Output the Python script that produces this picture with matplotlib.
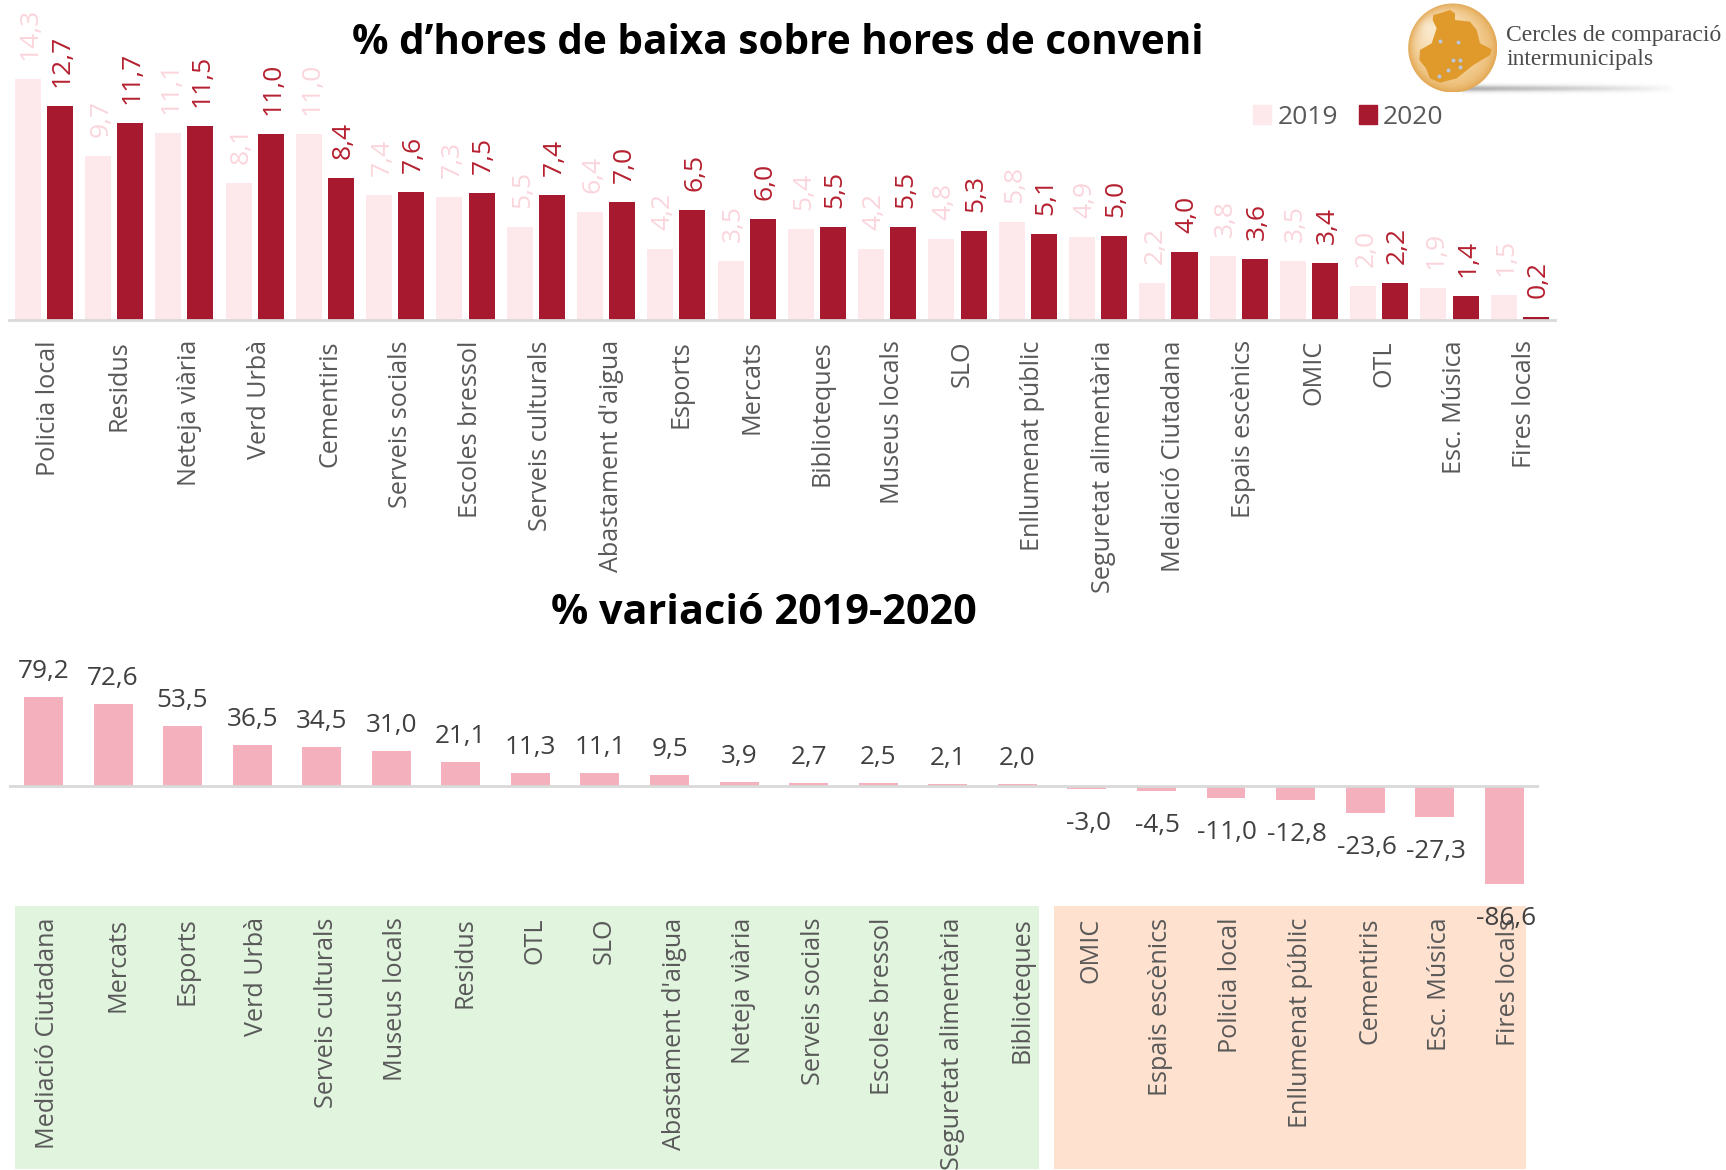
import numpy as np
import matplotlib
matplotlib.use("Agg")
import matplotlib.pyplot as plt
from matplotlib.patches import Rectangle, Circle, Polygon, Patch
from matplotlib.transforms import ScaledTranslation

W, H = 1726, 1170
plt.rcParams['font.family'] = ['Open Sans', 'DejaVu Sans']

services = ["Policia local", "Residus", "Neteja viària", "Verd Urbà", "Cementiris", "Serveis socials",
            "Escoles bressol", "Serveis culturals", "Abastament d'aigua", "Esports", "Mercats", "Biblioteques",
            "Museus locals", "SLO", "Enllumenat públic", "Seguretat alimentària", "Mediació Ciutadana",
            "Espais escènics", "OMIC", "OTL", "Esc. Música", "Fires locals"]
values_2019 = [14.3, 9.7, 11.1, 8.1, 11.0, 7.4, 7.3, 5.5, 6.4, 4.2, 3.5, 5.4, 4.2, 4.8, 5.8, 4.9, 2.2, 3.8, 3.5, 2.0, 1.9, 1.5]
values_2020 = [12.7, 11.7, 11.5, 11.0, 8.4, 7.6, 7.5, 7.4, 7.0, 6.5, 6.0, 5.5, 5.5, 5.3, 5.1, 5.0, 4.0, 3.6, 3.4, 2.2, 1.4, 0.2]

var_names = ["Mediació Ciutadana", "Mercats", "Esports", "Verd Urbà", "Serveis culturals", "Museus locals", "Residus",
             "OTL", "SLO", "Abastament d'aigua", "Neteja viària", "Serveis socials", "Escoles bressol",
             "Seguretat alimentària", "Biblioteques", "OMIC", "Espais escènics", "Policia local",
             "Enllumenat públic", "Cementiris", "Esc. Música", "Fires locals"]
var_values = [79.2, 72.6, 53.5, 36.5, 34.5, 31.0, 21.1, 11.3, 11.1, 9.5, 3.9, 2.7, 2.5, 2.1, 2.0,
              -3.0, -4.5, -11.0, -12.8, -23.6, -27.3, -86.6]

PALE, DARK, PINK = '#FDE8EB', '#A6192E', '#F4B0BC'
PALE_T, DARK_T = '#FBD5DC', '#B5202F'
GREY_LINE, TICK, VAL = '#D9D9D9', '#595959', '#404040'
PX = 0.72  # points per pixel at dpi 100


def fmt(v):
    return f"{v:.1f}".replace('.', ',')


def ax_px(fig, left, top, right, bottom):
    return fig.add_axes([left / W, 1 - bottom / H, (right - left) / W, (bottom - top) / H])


def shift_ticklabels(axis, fig, px):
    tr = ScaledTranslation(px / 100, 0, fig.dpi_scale_trans)
    for lab in axis.get_xticklabels():
        lab.set_transform(lab.get_transform() + tr)


fig = plt.figure(figsize=(W / 100, H / 100), dpi=100, facecolor='white')

# background panels
fig.add_artist(Rectangle((15 / W, 1 - 1169 / H), 1024 / W, 263 / H, transform=fig.transFigure,
                         fc='#E0F4DE', ec='none', zorder=-5))
fig.add_artist(Rectangle((1054 / W, 1 - 1169 / H), 472 / W, 263 / H, transform=fig.transFigure,
                         fc='#FFE1CF', ec='none', zorder=-5))

# top chart
ax = ax_px(fig, 8.6, 0, 1555, 320)
ax.patch.set_alpha(0)
x = np.arange(len(services))
off, bw = 0.229, 0.37
b1 = ax.bar(x - off, values_2019, bw, color=PALE, label='2019')
b2 = ax.bar(x + off, values_2020, bw, color=DARK, label='2020')
ax.set_xlim(-0.5, len(services) - 0.5)
ax.set_ylim(0, 320 / 16.88)
for xi, v in zip(x - off, values_2019):
    ax.annotate(fmt(v), (xi, v), xytext=(2, 19 * PX), textcoords='offset points', rotation=90,
                ha='center', va='bottom', fontsize=19, color=PALE_T)
for xi, v in zip(x + off, values_2020):
    ax.annotate(fmt(v), (xi, v), xytext=(1.5, 19 * PX), textcoords='offset points', rotation=90,
                ha='center', va='bottom', fontsize=19, color=DARK_T)
ax.set_xticks(x, services, rotation=90, fontsize=18.1, color=TICK)
ax.tick_params(axis='x', length=0, pad=14.5)
shift_ticklabels(ax, fig, 5)
ax.yaxis.set_visible(False)
for s in ('top', 'left', 'right'):
    ax.spines[s].set_visible(False)
ax.spines['bottom'].set_color(GREY_LINE)
ax.spines['bottom'].set_linewidth(2)
fig.legend(handles=[Patch(color=PALE, label='2019'), Patch(color=DARK, label='2020')], ncol=2,
           loc='center left', bbox_to_anchor=(1253 / W, 1 - 117 / H), frameon=False, fontsize=19,
           labelcolor=TICK, handlelength=0.7, handleheight=0.7, handletextpad=0.22, columnspacing=0.8,
           borderpad=0, borderaxespad=0)

# bottom chart
ax2 = ax_px(fig, 8.7, 640, 1539, 905)
ax2.patch.set_alpha(0)
x2 = np.arange(len(var_names))
ax2.bar(x2, var_values, 0.56, color=PINK)
ax2.axhline(0, color=GREY_LINE, lw=2, zorder=3)
ax2.set_xlim(-0.5, len(var_names) - 0.5)
scale = 1.13
ax2.set_ylim(-(905 - 786) / scale, (786 - 640) / scale)
for xi, v in zip(x2, var_values):
    if v >= 0:
        ax2.annotate(fmt(v), (xi, v), xytext=(0, 13 * PX), textcoords='offset points',
                     ha='center', va='bottom', fontsize=18.8, color=VAL)
    else:
        ax2.annotate(fmt(v), (xi, v), xytext=(1, -22 * PX), textcoords='offset points',
                     ha='center', va='top', fontsize=18.8, color=VAL, annotation_clip=False, zorder=6)
ax2.set_xticks(x2, var_names, rotation=90, fontsize=18.1, color=TICK)
ax2.tick_params(axis='x', length=0, pad=9)
shift_ticklabels(ax2, fig, 4.5)
ax2.yaxis.set_visible(False)
for s in ax2.spines.values():
    s.set_visible(False)

# titles
fig.text(778 / W, 1 - 43 / H, "% d’hores de baixa sobre hores de conveni", ha='center', va='center',
         fontsize=29.2, fontweight='bold', color='black')
fig.text(764 / W, 1 - 613 / H, "% variació 2019-2020", ha='center', va='center',
         fontsize=29.8, fontweight='bold', color='black')

# logo
lg = fig.add_axes([0, 0, 1, 1], zorder=10)
lg.patch.set_alpha(0)
lg.axis('off')
cx, cy, r = 1452.7, 48, 44.5
yy, xx = np.mgrid[-1:1:200j, -1:1:200j]
d = np.clip(np.hypot(xx + 0.6, yy + 0.5) / 1.3, 0, 1)
edge = np.clip(np.hypot(xx, yy), 0, 1) ** 6
c0, c1, c2 = np.array([1.0, 0.98, 0.94]), np.array([0.95, 0.80, 0.56]), np.array([0.89, 0.66, 0.33])
img = c0 + (c1 - c0) * d[..., None] ** 0.6
img = img + (c2 - img) * edge[..., None]
im = lg.imshow(img, extent=(cx - r, cx + r, cy + r, cy - r), aspect='auto', zorder=2)
im.set_clip_path(Circle((cx, cy), r, transform=lg.transData))
sy, sx = np.mgrid[-1:1:30j, -1:1:240j]
alpha = np.exp(-(sy * 2.0) ** 2) * np.clip(1 - (sx + 1) / 2, 0, 1) ** 0.8 * 0.65
shadow = np.zeros(sy.shape + (4,))
shadow[..., :3] = 0.5
shadow[..., 3] = alpha
lg.imshow(shadow, extent=(1462, 1675, 95, 82), aspect='auto', zorder=1)
zoom_outline = [(280, 45), (305, 38), (330, 30), (345, 40), (345, 60), (390, 65), (410, 90), (420, 130), (455, 148),
                (450, 165), (400, 195), (350, 235), (300, 248), (270, 235), (258, 205), (238, 180), (240, 150),
                (275, 130), (290, 85), (278, 60)]
lg.add_patch(Polygon([(1340 + a / 3, b / 3) for a, b in zoom_outline], closed=True, fc='#E09A2B', ec='none', zorder=3))
zoom_dots = [(300, 122), (355, 126), (340, 180), (360, 180), (360, 200), (323, 210), (297, 228)]
lg.scatter([1340 + a / 3 for a, _ in zoom_dots], [b / 3 for _, b in zoom_dots], s=8, c='#B9C6DC',
           linewidths=0, zorder=4)
for txt, ty in (("Cercles de comparació", 35), ("intermunicipals", 59)):
    lg.text(1506, ty, txt, family='Liberation Serif', fontsize=17, color='#4A4A4A', va='center', ha='left', zorder=5)
lg.set_xlim(0, W)
lg.set_ylim(H, 0)

fig.savefig('out.png', dpi=100, facecolor='white')
